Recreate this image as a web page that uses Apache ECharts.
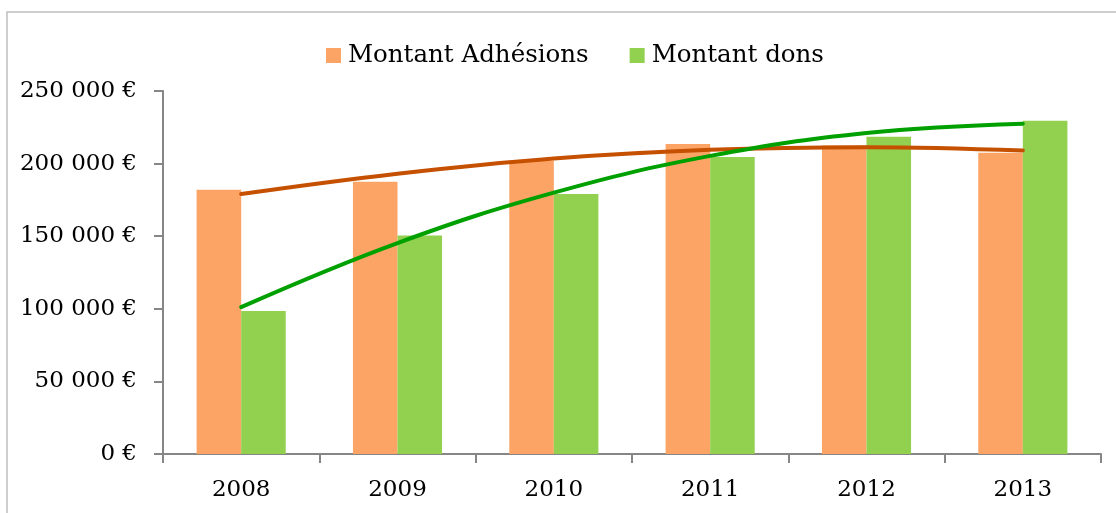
<!DOCTYPE html>
<html>
<head>
<meta charset="utf-8">
<script src="https://cdn.jsdelivr.net/npm/echarts@6/dist/echarts.min.js"></script>
<style>
  html, body { margin: 0; padding: 0; background: #fff; }
  #chart { width: 1116px; height: 513px; }
</style>
</head>
<body>
<div id="chart"></div>
<script>
const years = ['2008', '2009', '2010', '2011', '2012', '2013'];
const adhesions = [182000, 187500, 202000, 213500, 212500, 207500];
const dons = [98500, 150500, 179000, 204500, 218500, 229500];
// trend lines at each category centre
const trendAdhesions = [179000, 193000, 203500, 209500, 211300, 209000];
const trendDons = [101200, 145300, 180000, 205300, 221100, 227500];
const yTicks = { min: 0, max: 250000, interval: 50000 };

const chart = echarts.init(document.getElementById('chart'), null, { renderer: 'canvas' });

const axisFont = { fontFamily: 'DejaVu Serif', fontSize: 23, color: '#000' };
const axisGray = '#868686';

chart.setOption({
  animation: false,
  backgroundColor: '#fff',
  graphic: [{
    type: 'rect',
    shape: { x: 7, y: 12, width: 1200, height: 600 },
    style: { fill: 'none', stroke: '#BFBFBF', lineWidth: 1.5 },
    silent: true
  }],
  legend: {
    data: ['Montant Adhésions', 'Montant dons'],
    left: 321,
    top: 38,
    icon: 'rect',
    itemWidth: 15,
    itemHeight: 15,
    itemGap: 41,
    textStyle: { fontFamily: 'DejaVu Serif', fontSize: 24.5, color: '#000', padding: [0, 0, 0, 2] }
  },
  grid: { left: 163, right: 15, top: 91, bottom: 59, containLabel: false },
  xAxis: {
    type: 'category',
    data: years,
    axisLine: { show: true, lineStyle: { color: axisGray, width: 2 } },
    axisTick: { show: true, length: 9, interval: 0, lineStyle: { color: axisGray, width: 2 } },
    axisLabel: Object.assign({ margin: 25, interval: 0 }, axisFont),
    splitLine: { show: false }
  },
  yAxis: {
    type: 'value',
    min: yTicks.min,
    max: yTicks.max,
    interval: yTicks.interval,
    axisLine: { show: true, lineStyle: { color: axisGray, width: 2 } },
    axisTick: { show: true, length: 9, lineStyle: { color: axisGray, width: 2 } },
    axisLabel: Object.assign({
      margin: 26,
      formatter: function (v) { return v === 0 ? '0 €' : (v / 1000) + ' 000 €'; }
    }, axisFont),
    splitLine: { show: false }
  },
  series: [
    {
      name: 'Montant Adhésions',
      type: 'bar',
      data: adhesions,
      barGap: '0%',
      barCategoryGap: '43%',
      itemStyle: { color: '#FCA465' },
      z: 2
    },
    {
      name: 'Montant dons',
      type: 'bar',
      data: dons,
      barGap: '0%',
      barCategoryGap: '43%',
      itemStyle: { color: '#92D050' },
      z: 2
    },
    {
      name: 'Tendance Adhésions',
      type: 'line',
      data: trendAdhesions,
      smooth: 0.4,
      symbol: 'none',
      lineStyle: { color: '#C55000', width: 4, cap: 'round' },
      z: 5
    },
    {
      name: 'Tendance dons',
      type: 'line',
      data: trendDons,
      smooth: 0.4,
      symbol: 'none',
      lineStyle: { color: '#00A000', width: 4, cap: 'round' },
      z: 6
    }
  ]
});
</script>
</body>
</html>
